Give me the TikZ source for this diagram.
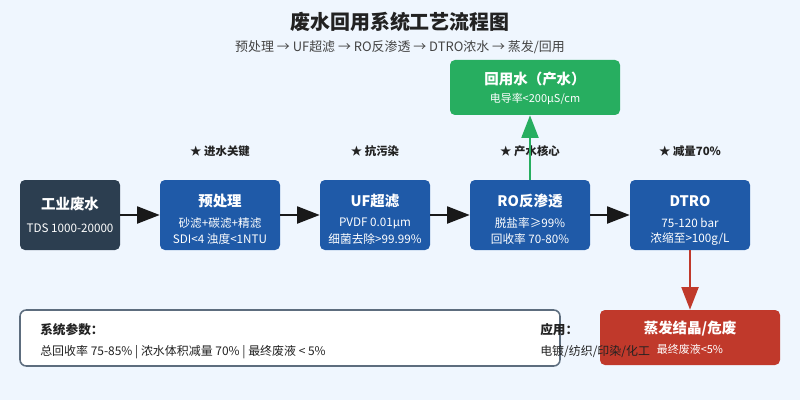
\documentclass[tikz,border=0pt]{standalone}
\usepackage{fontspec}
\setmainfont{Noto Sans CJK SC}
\usetikzlibrary{arrows.meta}
\definecolor{bg}{HTML}{EFF6FE}
\definecolor{darkbox}{HTML}{2C3E50}
\definecolor{bluebox}{HTML}{1F5AA8}
\definecolor{greenbox}{HTML}{27AE60}
\definecolor{redbox}{HTML}{C0392B}
\definecolor{edgegray}{HTML}{5D6D7E}
\definecolor{txt}{HTML}{222222}
\definecolor{subtxt}{HTML}{444444}
\newcommand{\fs}[1]{\fontsize{#1}{#1}\selectfont}
\tikzset{
  proc/.style={rounded corners=3.5pt, inner sep=0pt, text=white, align=center},
  ttl/.style={font=\fs{10.3}\bfseries, text=white},
  sub/.style={font=\fs{8.3}, text=white, align=center},
  flow/.style={line width=1.6pt, -{Triangle[length=16pt,width=12pt]}},
  star/.style={font=\fs{8.1}\bfseries, text=txt},
}
\begin{document}
\begin{tikzpicture}[x=0.025cm,y=-0.025cm]
\fill[bg] (0,0) rectangle (800,400);
\useasboundingbox (0,0) rectangle (800,400);
% title
\node[font=\fs{14.2}\bfseries, text=txt] (title) at (400,22) {废水回用系统工艺流程图};
\node[font=\fs{9.2}, text=subtxt] (subtitle) at (400,47) {预处理 → UF超滤 → RO反渗透 → DTRO浓水 → 蒸发/回用};
% boxes
\fill[darkbox, rounded corners=3.5pt] (20,180) rectangle (120,250);
\node (wwbox) at (70,215) [minimum width=100*0.025cm, minimum height=70*0.025cm] {};
\node[ttl] (wwt) at (70,204) {工业废水};
\node[sub] (wws) at (70,228) {TDS 1000-20000};

\fill[bluebox, rounded corners=3.5pt] (160,180) rectangle (280,250);
\node (prebox) at (220,215) [minimum width=120*0.025cm, minimum height=70*0.025cm] {};
\node[ttl] (pret) at (220,201) {预处理};
\node[sub] (pres1) at (220,223) {砂滤+碳滤+精滤};
\node[sub] (pres2) at (220,239) {SDI<4 浊度<1NTU};

\fill[bluebox, rounded corners=3.5pt] (320,180) rectangle (430,250);
\node (ufbox) at (375,215) [minimum width=110*0.025cm, minimum height=70*0.025cm] {};
\node[ttl] (uft) at (375,201) {UF超滤};
\node[sub] (ufs1) at (375,223) {PVDF 0.01μm};
\node[sub] (ufs2) at (375,239) {细菌去除>99.99\%};

\fill[bluebox, rounded corners=3.5pt] (470,180) rectangle (590,250);
\node (robox) at (530,215) [minimum width=120*0.025cm, minimum height=70*0.025cm] {};
\node[ttl] (rot) at (530,201) {RO反渗透};
\node[sub] (ros1) at (530,223) {脱盐率≥99\%};
\node[sub] (ros2) at (530,239) {回收率 70-80\%};

\fill[bluebox, rounded corners=3.5pt] (630,180) rectangle (750,250);
\node (dtbox) at (690,215) [minimum width=120*0.025cm, minimum height=70*0.025cm] {};
\node[ttl] (dtt) at (690,201) {DTRO};
\node[sub] (dts1) at (690,223) {75-120 bar};
\node[sub] (dts2) at (690,239) {浓缩至>100g/L};

% green
\fill[greenbox, rounded corners=3.5pt] (450,60) rectangle (620,115);
\node (gbox) at (535,87.5) [minimum width=170*0.025cm, minimum height=55*0.025cm] {};
\node[ttl] (gt) at (535,79) {回用水（产水）};
\node[sub, font=\fs{7.8}] (gs) at (535,99) {电导率<200μS/cm};

% stars
\node[star] (st1) at (220,151) {★ 进水关键};
\node[star] (st2) at (375,151) {★ 抗污染};
\node[star] (st3) at (530,151) {★ 产水核心};
\node[star] (st4) at (690,151) {★ 减量70\%};

% arrows
\draw[flow, black!90] (wwbox.east) -- (prebox.west);
\draw[flow, black!90] (prebox.east) -- (ufbox.west);
\draw[flow, black!90] (ufbox.east) -- (robox.west);
\draw[flow, black!90] (robox.east) -- (dtbox.west);
\draw[flow, greenbox] (robox.north) -- (robox.north |- gbox.south);

% white param box
\draw[edgegray, fill=white, line width=1.1pt, rounded corners=4.5pt] (20,310) rectangle (560,366);
\node (parambox) at (290,338) [minimum width=540*0.025cm, minimum height=56*0.025cm] {};
\node[anchor=west, inner sep=0pt, font=\fs{9}\bfseries, text=txt] (pt) at (40,330) {系统参数：};
\node[anchor=west, inner sep=0pt, font=\fs{8.5}, text=txt] (ps) at (40,352) {总回收率 75-85\% | 浓水体积减量 70\% | 最终废液 < 5\%};

% red
\fill[redbox, rounded corners=3.5pt] (600,310) rectangle (780,365);
\node (rbox) at (690,337.5) [minimum width=180*0.025cm, minimum height=55*0.025cm] {};
\node[ttl] (rt) at (690,329) {蒸发结晶/危废};
\node[sub, font=\fs{7.8}] (rs) at (690,349) {最终废液<5\%};
\draw[flow, redbox] (dtbox.south) -- (rbox.north);

\node[anchor=west, inner sep=0pt, font=\fs{9}\bfseries, text=txt] (at) at (540,330) {应用：};
\node[anchor=west, inner sep=0pt, font=\fs{8.5}, text=txt] (as) at (540,352) {电镀/纺织/印染/化工};
\end{tikzpicture}
\end{document}
